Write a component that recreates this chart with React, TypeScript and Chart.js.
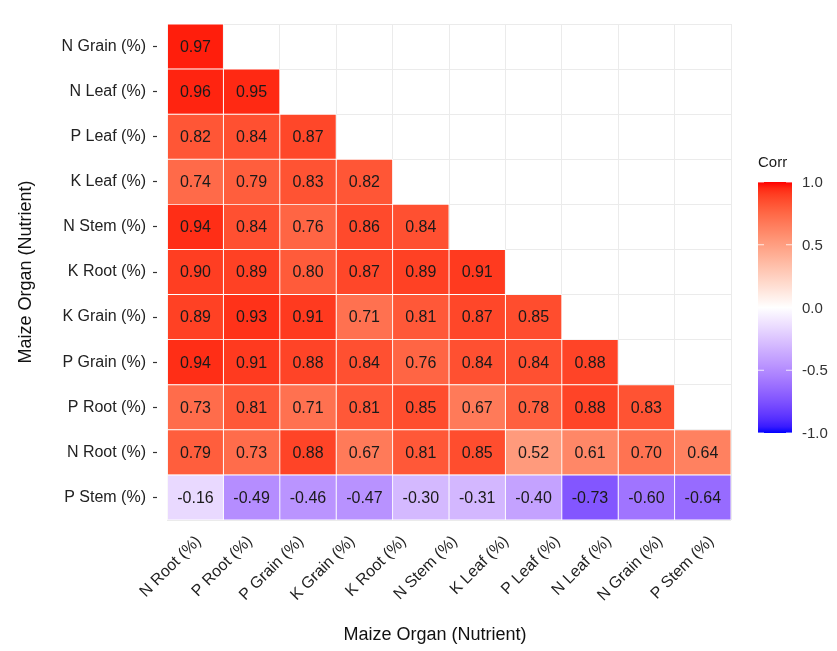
import React, { useEffect, useRef } from "react";
import { Chart, registerables } from "chart.js";

Chart.register(...registerables);

// ---------- data ----------
const rowLabels = [
  "N Grain (%)", "N Leaf (%)", "P Leaf (%)", "K Leaf (%)", "N Stem (%)", "K Root (%)",
  "K Grain (%)", "P Grain (%)", "P Root (%)", "N Root (%)", "P Stem (%)",
];
const colLabels = [
  "N Root (%)", "P Root (%)", "P Grain (%)", "K Grain (%)", "K Root (%)", "N Stem (%)",
  "K Leaf (%)", "P Leaf (%)", "N Leaf (%)", "N Grain (%)", "P Stem (%)",
];
const rowNGrain = [0.97];
const rowNLeaf = [0.96, 0.95];
const rowPLeaf = [0.82, 0.84, 0.87];
const rowKLeaf = [0.74, 0.79, 0.83, 0.82];
const rowNStem = [0.94, 0.84, 0.76, 0.86, 0.84];
const rowKRoot = [0.90, 0.89, 0.80, 0.87, 0.89, 0.91];
const rowKGrain = [0.89, 0.93, 0.91, 0.71, 0.81, 0.87, 0.85];
const rowPGrain = [0.94, 0.91, 0.88, 0.84, 0.76, 0.84, 0.84, 0.88];
const rowPRoot = [0.73, 0.81, 0.71, 0.81, 0.85, 0.67, 0.78, 0.88, 0.83];
const rowNRoot = [0.79, 0.73, 0.88, 0.67, 0.81, 0.85, 0.52, 0.61, 0.70, 0.64];
const rowPStem = [-0.16, -0.49, -0.46, -0.47, -0.30, -0.31, -0.40, -0.73, -0.60, -0.64];
const corrRows = [
  rowNGrain, rowNLeaf, rowPLeaf, rowKLeaf, rowNStem, rowKRoot,
  rowKGrain, rowPGrain, rowPRoot, rowNRoot, rowPStem,
];
const cellColumnCount = 10;
const legendTicks = [1, 0.5, 0, -0.5, -1];
const legendTitle = "Corr";
const axisTitle = "Maize Organ (Nutrient)";

// ---------- colour (Lab interpolation blue-white-red) ----------
const FONT = '"Liberation Sans", Arial, Helvetica, sans-serif';
const toLin = (c: number) => { c /= 255; return c <= 0.04045 ? c / 12.92 : Math.pow((c + 0.055) / 1.055, 2.4); };
const toSrgb = (c: number) => {
  const v = c <= 0.0031308 ? 12.92 * c : 1.055 * Math.pow(c, 1 / 2.4) - 0.055;
  return Math.round(Math.max(0, Math.min(1, v)) * 255);
};
const Xn = 0.95047, Yn = 1, Zn = 1.08883;
const fLab = (t: number) => (t > 216 / 24389 ? Math.cbrt(t) : ((24389 / 27) * t + 16) / 116);
const fInv = (t: number) => (t * t * t > 216 / 24389 ? t * t * t : (116 * t - 16) / (24389 / 27));
function rgbToLab(rgb: number[]) {
  const R = toLin(rgb[0]), G = toLin(rgb[1]), B = toLin(rgb[2]);
  const X = 0.4124564 * R + 0.3575761 * G + 0.1804375 * B;
  const Y = 0.2126729 * R + 0.7151522 * G + 0.072175 * B;
  const Z = 0.0193339 * R + 0.119192 * G + 0.9503041 * B;
  const fx = fLab(X / Xn), fy = fLab(Y / Yn), fz = fLab(Z / Zn);
  return [116 * fy - 16, 500 * (fx - fy), 200 * (fy - fz)];
}
function labToRgb(lab: number[]) {
  const fy = (lab[0] + 16) / 116, fx = fy + lab[1] / 500, fz = fy - lab[2] / 200;
  const X = Xn * fInv(fx), Y = Yn * fInv(fy), Z = Zn * fInv(fz);
  const R = 3.2404542 * X - 1.5371385 * Y - 0.4985314 * Z;
  const G = -0.969266 * X + 1.8760108 * Y + 0.041556 * Z;
  const B = 0.0556434 * X - 0.2040259 * Y + 1.0572252 * Z;
  return [toSrgb(R), toSrgb(G), toSrgb(B)];
}
const LAB_LOW = rgbToLab([0, 0, 255]);
const LAB_MID = rgbToLab([255, 255, 255]);
const LAB_HIGH = rgbToLab([255, 0, 0]);
function corrColor(v: number) {
  const t = Math.min(1, Math.abs(v));
  const end = v >= 0 ? LAB_HIGH : LAB_LOW;
  const lab = [0, 1, 2].map((k) => LAB_MID[k] + (end[k] - LAB_MID[k]) * t);
  const c = labToRgb(lab);
  return `rgb(${c[0]},${c[1]},${c[2]})`;
}

// ---------- plugins ----------
const valueLabels = {
  id: "valueLabels",
  afterDatasetsDraw(chart: any) {
    const ctx = chart.ctx;
    ctx.save();
    ctx.font = `16px ${FONT}`;
    ctx.fillStyle = "#1a1a1a";
    ctx.textAlign = "center";
    ctx.textBaseline = "middle";
    chart.data.datasets.forEach((ds: any, di: number) => {
      const meta = chart.getDatasetMeta(di);
      meta.data.forEach((el: any, i: number) => {
        const v = ds.values[i];
        if (v == null) return;
        const p = el.getCenterPoint();
        ctx.fillText(v.toFixed(2), p.x, p.y + 1);
      });
    });
    ctx.restore();
  },
};

const xTitle = {
  id: "xTitle",
  afterDraw(chart: any) {
    const ctx = chart.ctx;
    ctx.save();
    ctx.font = `18px ${FONT}`;
    ctx.fillStyle = "#111";
    ctx.textAlign = "center";
    ctx.textBaseline = "middle";
    ctx.fillText(axisTitle, 435, 635);
    ctx.restore();
  },
};

const corrLegend = {
  id: "corrLegend",
  afterDraw(chart: any) {
    const ctx = chart.ctx;
    const x0 = 758, w = 34, top = 182, bottom = 433;
    ctx.save();
    const grad = ctx.createLinearGradient(0, top, 0, bottom);
    const n = 40;
    for (let i = 0; i <= n; i++) {
      const v = 1 - (2 * i) / n;
      grad.addColorStop(i / n, corrColor(v));
    }
    ctx.fillStyle = grad;
    ctx.fillRect(x0, top, w, bottom - top);
    ctx.font = `15px ${FONT}`;
    ctx.fillStyle = "#1a1a1a";
    ctx.textAlign = "left";
    ctx.textBaseline = "middle";
    ctx.fillText(legendTitle, x0, 163);
    legendTicks.forEach((t) => {
      const y = top + ((1 - t) / 2) * (bottom - top);
      ctx.strokeStyle = "rgba(255,255,255,0.8)";
      ctx.lineWidth = 1;
      ctx.beginPath();
      ctx.moveTo(x0, y); ctx.lineTo(x0 + 6, y);
      ctx.moveTo(x0 + w - 6, y); ctx.lineTo(x0 + w, y);
      ctx.stroke();
      ctx.fillStyle = "#333";
      ctx.fillText(t.toFixed(1), 802, y + 1);
    });
    ctx.restore();
  },
};

export default function App() {
  const ref = useRef<HTMLCanvasElement>(null);
  useEffect(() => {
    if (!ref.current) return;
    Chart.defaults.font.family = FONT;
    const datasets = Array.from({ length: cellColumnCount }, (_, j) => {
      const values = corrRows.map((r) => (j < r.length ? r[j] : null));
      return {
        label: colLabels[j],
        data: corrRows.map((r) => (j < r.length ? [j, j + 1] : null)),
        values,
        backgroundColor: values.map((v) => (v == null ? "rgba(0,0,0,0)" : corrColor(v))),
        borderColor: "#ffffff",
        borderWidth: 0.8,
        borderSkipped: false,
        grouped: false,
        barPercentage: 1,
        categoryPercentage: 1,
      };
    });
    const tickFont = { size: 16, family: FONT };
    const chart = new Chart(ref.current, {
      type: "bar",
      data: { labels: rowLabels, datasets: datasets as any },
      options: {
        indexAxis: "y",
        animation: false,
        responsive: false,
        devicePixelRatio: 1,
        layout: { padding: { top: 24, right: 106, left: 0, bottom: 0 } },
        plugins: { legend: { display: false }, tooltip: { enabled: false } },
        scales: {
          x: {
            type: "linear", min: 0, max: cellColumnCount, position: "bottom",
            ticks: { display: false, stepSize: 1 },
            grid: { color: "#ebebeb", drawTicks: false },
            border: { display: false },
            afterFit: (s: any) => { s.height = 0; },
          },
          x2: {
            type: "category", labels: colLabels, position: "bottom", offset: true,
            grid: { display: false },
            border: { display: false },
            ticks: { autoSkip: false, maxRotation: 45, minRotation: 45, font: tickFont, color: "#222", labelOffset: 6, padding: 4 },
            afterFit: (s: any) => { s.height = 131; },
          },
          y: {
            type: "category", position: "left", offset: true,
            grid: { color: "#ebebeb", offset: true, drawTicks: false },
            ticks: { display: false },
            border: { display: false },
            afterFit: (s: any) => { s.width = 0; },
          },
          y2: {
            type: "category", labels: rowLabels, position: "left", offset: true,
            grid: { offset: false, drawOnChartArea: false, tickLength: 14, tickBorderDash: [4, 100], tickColor: "#333", tickWidth: 1.2 },
            border: { display: false },
            ticks: { font: tickFont, color: "#222", padding: 7 },
            title: { display: true, text: axisTitle, font: { size: 18, family: FONT }, color: "#111", padding: { top: 15, bottom: 0 } },
            afterFit: (s: any) => { s.width = 167; },
          },
        },
      } as any,
      plugins: [valueLabels, corrLegend, xTitle],
    });
    return () => chart.destroy();
  }, []);
  return (
    <div style={{ position: "fixed", left: 0, top: 0, width: 837, height: 651, background: "#fff" }}>
      <canvas ref={ref} width={837} height={651} />
    </div>
  );
}
